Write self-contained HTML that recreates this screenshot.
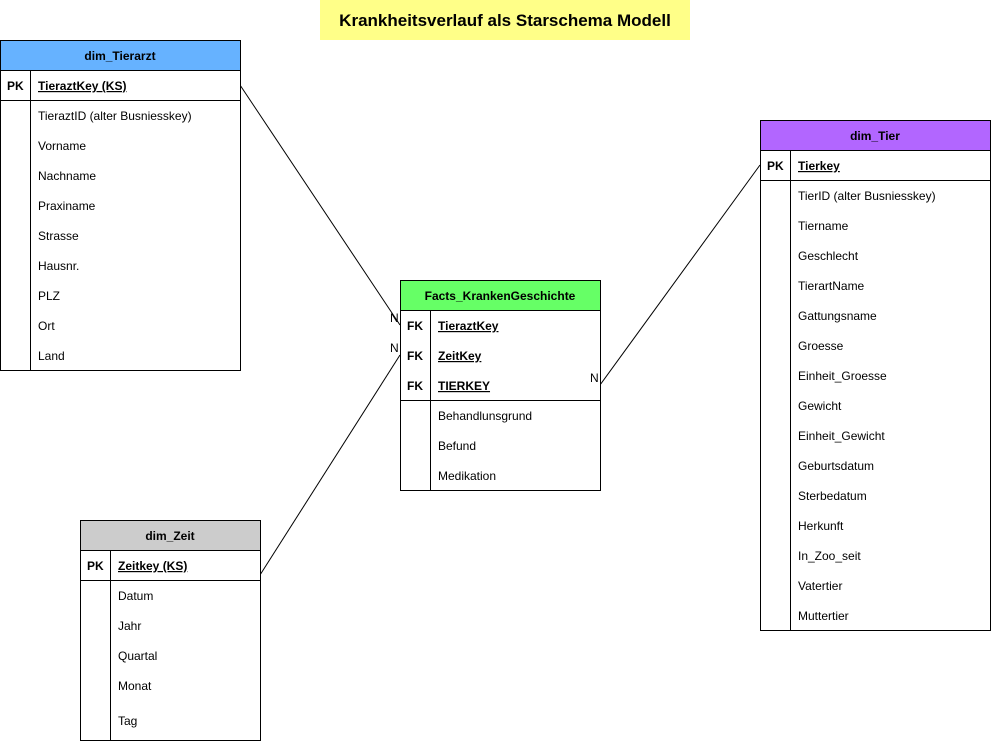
<!DOCTYPE html>
<html><head><meta charset="utf-8"><style>
html,body{margin:0;padding:0;background:#fff;}
svg{display:block;font-family:"Liberation Sans",Arial,sans-serif;font-size:12px;}
.b{font-weight:bold;}
</style></head><body>
<svg width="991" height="741" viewBox="0 0 991 741" xmlns="http://www.w3.org/2000/svg">
<rect x="320" y="0" width="370" height="40" fill="#ffff88"/>
<text x="505" y="26" text-anchor="middle" font-size="17" font-weight="bold">Krankheitsverlauf als Starschema Modell</text>

<g stroke="#000" stroke-width="1" fill="none">
<line x1="240" y1="85" x2="400" y2="325"/>
<line x1="260" y1="575" x2="400" y2="355"/>
<line x1="600" y1="385" x2="760" y2="165"/>
</g>

<!-- dim_Tierarzt -->
<rect x="0.5" y="40.5" width="240" height="30" fill="#66b2ff" stroke="#000"/>
<text x="120" y="60" text-anchor="middle" class="b">dim_Tierarzt</text>
<rect x="0.5" y="70.5" width="240" height="300" fill="#fff" stroke="#000"/>
<line x1="0" y1="100.5" x2="240" y2="100.5" stroke="#000"/>
<line x1="30.5" y1="70" x2="30.5" y2="370" stroke="#000"/>
<text x="7" y="90" class="b">PK</text>
<text x="38" y="90" class="b" text-decoration="underline">TieraztKey (KS)</text>
<text x="38" y="120">TieraztID (alter Busniesskey)</text>
<text x="38" y="150">Vorname</text>
<text x="38" y="180">Nachname</text>
<text x="38" y="210">Praxiname</text>
<text x="38" y="240">Strasse</text>
<text x="38" y="270">Hausnr.</text>
<text x="38" y="300">PLZ</text>
<text x="38" y="330">Ort</text>
<text x="38" y="360">Land</text>

<!-- dim_Tier -->
<rect x="760.5" y="120.5" width="230" height="30" fill="#b266ff" stroke="#000"/>
<text x="875" y="140" text-anchor="middle" class="b">dim_Tier</text>
<rect x="760.5" y="150.5" width="230" height="480" fill="#fff" stroke="#000"/>
<line x1="760" y1="180.5" x2="990" y2="180.5" stroke="#000"/>
<line x1="790.5" y1="150" x2="790.5" y2="630" stroke="#000"/>
<text x="767" y="170" class="b">PK</text>
<text x="798" y="170" class="b" text-decoration="underline">Tierkey</text>
<text x="798" y="200">TierID (alter Busniesskey)</text>
<text x="798" y="230">Tiername</text>
<text x="798" y="260">Geschlecht</text>
<text x="798" y="290">TierartName</text>
<text x="798" y="320">Gattungsname</text>
<text x="798" y="350">Groesse</text>
<text x="798" y="380">Einheit_Groesse</text>
<text x="798" y="410">Gewicht</text>
<text x="798" y="440">Einheit_Gewicht</text>
<text x="798" y="470">Geburtsdatum</text>
<text x="798" y="500">Sterbedatum</text>
<text x="798" y="530">Herkunft</text>
<text x="798" y="560">In_Zoo_seit</text>
<text x="798" y="590">Vatertier</text>
<text x="798" y="620">Muttertier</text>

<!-- Facts -->
<rect x="400.5" y="280.5" width="200" height="30" fill="#66ff66" stroke="#000"/>
<text x="500" y="300" text-anchor="middle" class="b">Facts_KrankenGeschichte</text>
<rect x="400.5" y="310.5" width="200" height="180" fill="#fff" stroke="#000"/>
<line x1="400" y1="400.5" x2="600" y2="400.5" stroke="#000"/>
<line x1="430.5" y1="310" x2="430.5" y2="490" stroke="#000"/>
<text x="407" y="330" class="b">FK</text>
<text x="407" y="360" class="b">FK</text>
<text x="407" y="390" class="b">FK</text>
<text x="438" y="330" class="b" text-decoration="underline">TieraztKey</text>
<text x="438" y="360" class="b" text-decoration="underline">ZeitKey</text>
<text x="438" y="390" class="b" text-decoration="underline">TIERKEY</text>
<text x="438" y="420">Behandlunsgrund</text>
<text x="438" y="450">Befund</text>
<text x="438" y="480">Medikation</text>

<!-- dim_Zeit -->
<rect x="80.5" y="520.5" width="180" height="30" fill="#cccccc" stroke="#000"/>
<text x="170" y="540" text-anchor="middle" class="b">dim_Zeit</text>
<rect x="80.5" y="550.5" width="180" height="190" fill="#fff" stroke="#000"/>
<line x1="80" y1="580.5" x2="260" y2="580.5" stroke="#000"/>
<line x1="110.5" y1="550" x2="110.5" y2="740" stroke="#000"/>
<text x="87" y="570" class="b">PK</text>
<text x="118" y="570" class="b" text-decoration="underline">Zeitkey (KS)</text>
<text x="118" y="600">Datum</text>
<text x="118" y="630">Jahr</text>
<text x="118" y="660">Quartal</text>
<text x="118" y="690">Monat</text>
<text x="118" y="725">Tag</text>

<text x="390" y="322">N</text>
<text x="390" y="352">N</text>
<text x="590" y="382">N</text>
</svg>
</body></html>
